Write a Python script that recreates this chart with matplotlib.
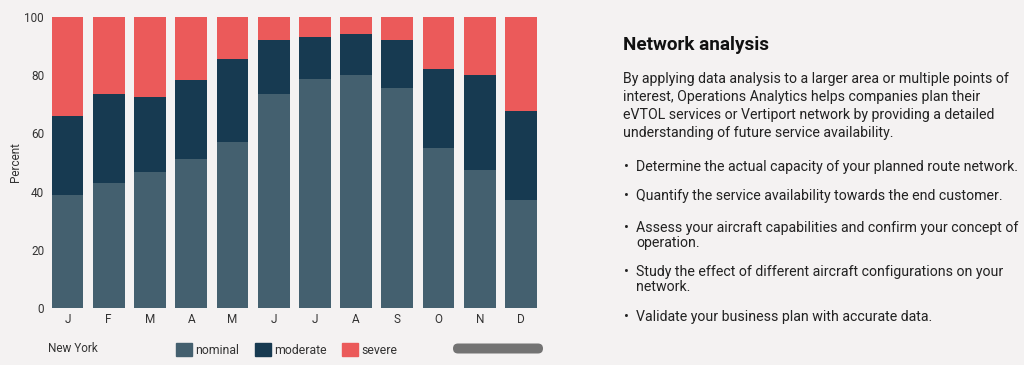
import matplotlib.pyplot as plt
from matplotlib.patches import Patch, FancyBboxPatch

plt.rcParams['font.family'] = ['Roboto', 'DejaVu Sans']

months = ['J', 'F', 'M', 'A', 'M', 'J', 'J', 'A', 'S', 'O', 'N', 'D']
nominal = [38.8, 42.8, 46.7, 51.1, 57.0, 73.6, 78.8, 80.2, 75.7, 55.1, 47.4, 37.2]
moderate_top = [66.1, 73.5, 72.7, 78.5, 85.7, 92.3, 93.1, 94.2, 92.3, 82.1, 80.0, 67.6]
moderate = [t - n for t, n in zip(moderate_top, nominal)]
severe = [100 - t for t in moderate_top]

bg = '#f4f2f2'
c_nom = '#44606f'
c_mod = '#173a51'
c_sev = '#eb5a5a'
txt = '#222222'

fig = plt.figure(figsize=(10.24, 3.65), dpi=100, facecolor=bg)
ax = fig.add_axes([46.9 / 1024, 1 - 307.7 / 365, (541.6 - 46.9) / 1024, (307.7 - 17.3) / 365])
ax.set_facecolor(bg)

x = range(len(months))
w = 0.77
ax.bar(x, nominal, w, color=c_nom)
ax.bar(x, moderate, w, bottom=nominal, color=c_mod)
ax.bar(x, severe, w, bottom=moderate_top, color=c_sev)

ax.set_xlim(-0.5, len(months) - 0.5)
ax.set_ylim(0, 100)
ax.set_yticks([0, 20, 40, 60, 80, 100])
ax.set_xticks(list(x))
ax.set_xticklabels(months)
ax.tick_params(axis='both', length=0, labelsize=8.5, colors='#333333')
ax.tick_params(axis='y', pad=2)
ax.tick_params(axis='x', pad=4)
for s in ax.spines.values():
    s.set_visible(False)
ax.set_ylabel('Percent', fontsize=8.5, color='#333333', labelpad=2)

fig.text(48 / 1024, 1 - 348 / 365, 'New York', fontsize=8.5, color='#333333', va='center')

handles = [Patch(color=c_nom, label='nominal'),
           Patch(color=c_mod, label='moderate'),
           Patch(color=c_sev, label='severe')]
fig.legend(handles=handles, loc='center left', bbox_to_anchor=(165 / 1024, 1 - 350 / 365),
           ncol=3, frameon=False, fontsize=8.8, handlelength=1.3, handleheight=1.3,
           handletextpad=0.3, columnspacing=1.25, labelcolor='#333333')

pill = FancyBboxPatch((453 / 1024, 1 - 353.5 / 365), 90 / 1024, 10 / 365,
                      boxstyle='round,pad=0,rounding_size=0.0049', transform=fig.transFigure,
                      facecolor='#737373', edgecolor='none', mutation_aspect=1024 / 365)
fig.patches.append(pill)

# right-hand text panel
fig.text(623 / 1024, 1 - 45 / 365, 'Network analysis', fontsize=13.6, fontweight='bold',
         color='#111111', va='center')
body = ('By applying data analysis to a larger area or multiple points of\n'
        'interest, Operations Analytics helps companies plan their\n'
        'eVTOL services or Vertiport network by providing a detailed\n'
        'understanding of future service availability.')
fig.text(623 / 1024, 1 - 72 / 365, body, fontsize=10.15, color=txt, va='top', linespacing=1.37)

bullets = [
    (160, 'Determine the actual capacity of your planned route network.'),
    (189, 'Quantify the service availability towards the end customer.'),
    (221, 'Assess your aircraft capabilities and confirm your concept of\noperation.'),
    (265, 'Study the effect of different aircraft configurations on your\nnetwork.'),
    (310, 'Validate your business plan with accurate data.'),
]
for yy, t in bullets:
    fig.text(624 / 1024, 1 - yy / 365, '\u2022', fontsize=10.15, color=txt, va='top')
    fig.text(636 / 1024, 1 - yy / 365, t, fontsize=10.15, color=txt, va='top', linespacing=1.1)

fig.savefig('out.png', dpi=100, facecolor=bg)
